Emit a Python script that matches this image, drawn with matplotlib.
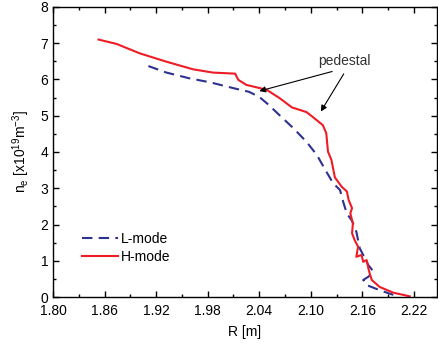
import matplotlib.pyplot as plt
from matplotlib.ticker import MultipleLocator

# H-mode profile (red, solid)
r_h = [1.853, 1.874, 1.901, 1.932, 1.963, 1.986, 2.012, 2.0156, 2.025, 2.041,
       2.049, 2.064, 2.078, 2.095, 2.101, 2.114, 2.118, 2.120, 2.124, 2.128,
       2.136, 2.142, 2.144, 2.148, 2.146, 2.149, 2.148, 2.151, 2.155, 2.153,
       2.159, 2.161, 2.165, 2.167, 2.169, 2.171, 2.180, 2.196, 2.215]
ne_h = [7.10, 6.98, 6.72, 6.49, 6.28, 6.19, 6.16, 5.99, 5.85, 5.76,
        5.71, 5.48, 5.23, 5.10, 4.99, 4.74, 4.52, 4.01, 3.78, 3.30,
        3.04, 2.91, 2.68, 2.45, 2.31, 2.03, 1.76, 1.57, 1.39, 1.11,
        1.16, 0.97, 1.02, 0.79, 0.61, 0.47, 0.28, 0.12, 0.02]

# L-mode profile (blue, dashed)
r_l = [1.911, 1.932, 1.959, 1.983, 2.010, 2.028, 2.040, 2.050, 2.062, 2.080,
       2.095, 2.107, 2.118, 2.126, 2.134, 2.138, 2.142, 2.148, 2.153, 2.157,
       2.161, 2.167, 2.173, 2.167, 2.161, 2.165, 2.180, 2.196]
ne_l = [6.37, 6.19, 6.03, 5.92, 5.76, 5.66, 5.52, 5.32, 5.05, 4.65,
        4.28, 3.92, 3.46, 3.14, 2.95, 2.60, 2.30, 2.10, 1.80, 1.34,
        1.16, 0.88, 0.70, 0.56, 0.47, 0.33, 0.19, 0.06]

red = '#ee1c25'
blue = '#2e3192'

plt.rcParams['font.family'] = ['Liberation Sans', 'DejaVu Sans']
plt.rcParams['font.size'] = 10

fig = plt.figure(figsize=(4.38, 3.47), dpi=100)
ax = fig.add_axes([0.121, 0.144, 0.877, 0.836])

ax.plot(r_l, ne_l, color=blue, lw=1.5, dashes=(5, 3), label='L-mode')
ax.plot(r_h, ne_h, color=red, lw=1.5, label='H-mode')

ax.annotate('', xy=(2.037, 5.66), xytext=(2.128, 6.24),
            arrowprops=dict(arrowstyle='-|>', color='black', lw=0.8, mutation_scale=9))
ax.annotate('', xy=(2.110, 5.05), xytext=(2.140, 6.22),
            arrowprops=dict(arrowstyle='-|>', color='black', lw=0.8, mutation_scale=9))
ax.text(2.139, 6.51, 'pedestal', ha='center', va='center', fontsize=10, color='#333333')

ax.set_xlim(1.80, 2.247)
ax.set_ylim(0, 8)
ax.xaxis.set_minor_locator(MultipleLocator(0.03))
ax.yaxis.set_major_locator(MultipleLocator(1))
ax.yaxis.set_minor_locator(MultipleLocator(0.5))
ax.set_xticks([1.80, 1.86, 1.92, 1.98, 2.04, 2.10, 2.16, 2.22])
ax.set_xticklabels(['1.80', '1.86', '1.92', '1.98', '2.04', '2.10', '2.16', '2.22'])
ax.tick_params(which='both', direction='in', top=True, right=True, width=1.0)
ax.tick_params(which='major', length=4.5)
ax.tick_params(which='minor', length=2.5)
ax.tick_params(axis='x', pad=5)
for s in ax.spines.values():
    s.set_linewidth(1.0)

ax.set_xlabel('R [m]', labelpad=5)
ax.set_ylabel(r'n$_\mathregular{e}$ [x10$^\mathregular{19}$m$^\mathregular{-3}$]', labelpad=6)

ax.legend(loc='lower left', bbox_to_anchor=(0.05, 0.08), frameon=False,
          handlelength=2.6, handletextpad=0.2, labelspacing=0.3, borderpad=0.2)

fig.savefig('out.png', dpi=100)
